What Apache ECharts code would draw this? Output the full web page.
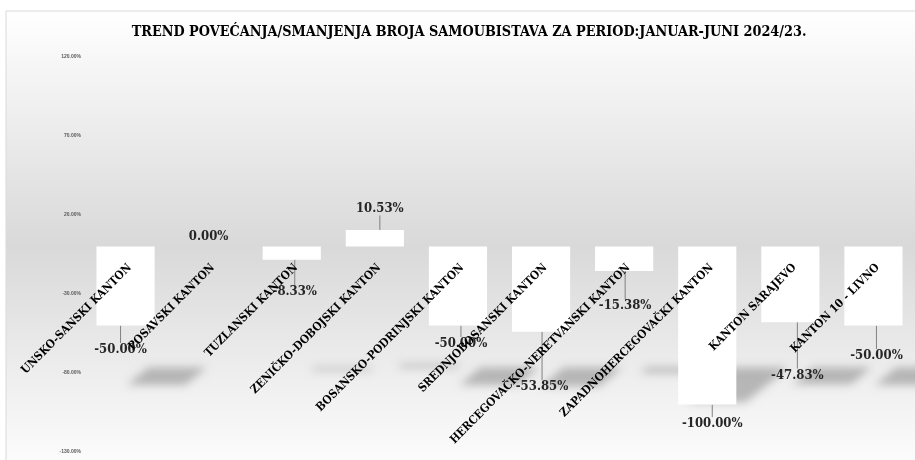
<!DOCTYPE html>
<html><head><meta charset="utf-8">
<script src="https://cdn.jsdelivr.net/npm/echarts@6/dist/echarts.min.js"></script>
<style>html,body{margin:0;padding:0;background:#fff}#c{width:915px;height:460px}</style>
</head><body><div id="c"></div>
<script>
const chartTitle = 'TREND POVEĆANJA/SMANJENJA BROJA SAMOUBISTAVA ZA PERIOD:JANUAR-JUNI 2024/23.';
const categories = ['UNSKO-SANSKI KANTON','POSAVSKI KANTON','TUZLANSKI KANTON','ZENIČKO-DOBOJSKI KANTON','BOSANSKO-PODRINJSKI KANTON','SREDNJOBOSANSKI KANTON','HERCEGOVAČKO-NERETVANSKI KANTON','ZAPADNOHERCEGOVAČKI KANTON','KANTON SARAJEVO','KANTON 10 - LIVNO'];
const changePct = [-50.00, 0.00, -8.33, 10.53, -50.00, -53.85, -15.38, -100.00, -47.83, -50.00];
const yMin = -130, yMax = 120, yStep = 50;

// label placement nudges in px (layout only, not data)
const labelNudge = [[-5,24],[0,-10],[3,32],[5,-21],[3,18],[1,55],[1,35],[5,19],[7,53],[3,30]];

const SERIF = '"DejaVu Serif Condensed", "DejaVu Serif", serif';
const GRID_TOP = 57, GRID_BOTTOM = 8, H = 460;
const chart = echarts.init(document.getElementById('c'), null, {renderer:'canvas'});

// px distance from bottom of grid up to the zero line, used to place category labels under zero
const plotH = H - GRID_TOP - GRID_BOTTOM;
const zeroFromBottom = plotH * (0 - yMin) / (yMax - yMin);
const OFF = 2000; // draw shadow shape off-canvas so only its blurred shadow shows

const option = {
  animation: false,
  graphic: {elements: [
    {type:'rect', z:-100, silent:true, shape:{x:6, y:11, width:940, height:470},
     style:{stroke:'#d9d9d9', lineWidth:1,
       fill:new echarts.graphic.LinearGradient(0,0,0,1,[
         {offset:0, color:'#ffffff'},{offset:0.5, color:'#d9d9d9'},{offset:1, color:'#ffffff'}])}},
    {type:'text', z:100, silent:true, x:469, y:32,
     style:{text:chartTitle, fill:'#000', font:'bold 14.3px ' + SERIF, align:'center', verticalAlign:'middle'}}
  ]},
  grid: {left:84, right:0, top:GRID_TOP, bottom:GRID_BOTTOM, containLabel:false, outerBoundsMode:'none'},
  xAxis: {type:'category', data:categories, z:10,
    axisLine:{show:false, onZero:false},
    axisTick:{show:false}, splitLine:{show:false},
    axisLabel:{rotate:45, interval:0, margin:15 - zeroFromBottom, align:'right', verticalAlign:'top',
      fontFamily:SERIF, fontWeight:'bold', fontSize:11.5, color:'#000', hideOverlap:false}},
  yAxis: {type:'value', min:yMin, max:yMax, interval:yStep,
    axisLine:{show:false}, axisTick:{show:false}, splitLine:{show:false},
    axisLabel:{margin:3, fontSize:5, color:'#595959', fontWeight:'bold',
      formatter:v => v.toFixed(2) + '%'}},
  series: [
    {type:'custom', z:1, silent:true, clip:false,
     data: changePct.map((v,i)=>[i,v]),
     renderItem: function(params, api){
       const i = api.value(0), v = api.value(1);
       if (!v) return null;
       const p0 = api.coord([i,0]), p1 = api.coord([i,v]);
       const bw = api.size([1,0])[0]*0.7;
       const zy = p0[1];
       const xl = p0[0]-bw/2, xr = p0[0]+bw/2;
       const yt = Math.min(p0[1],p1[1]), yb = Math.max(p0[1],p1[1]);
       const m = y => zy + 121 + (y-zy)*0.22;
       const s = y => 52 - (y-zy)*0.27 - OFF;
       return {type:'polygon', shape:{points:[[xl+s(yt),m(yt)],[xr+s(yt),m(yt)],[xr+s(yb),m(yb)],[xl+s(yb),m(yb)]]},
         style:{fill:'#000', shadowBlur:8, shadowOffsetX:OFF, shadowOffsetY:0, shadowColor:'rgba(0,0,0,0.24)'}};
     }},
    {type:'bar', z:2, barWidth:'70%',
     data: changePct.map(v => v === 0 ? {value:v, labelLine:{show:false}} : v),
     itemStyle:{color:'#ffffff'},
     label:{show:true, position:'inside', formatter:p => p.value.toFixed(2) + '%',
       fontFamily:SERIF, fontWeight:'bold', fontSize:13, color:'#262626'},
     labelLine:{show:true, lineStyle:{color:'#808080', width:1}},
     labelLayout: function(p){
       const n = labelNudge[p.dataIndex];
       const v = changePct[p.dataIndex];
       const r = p.rect;
       const cx = r.x + r.width/2;
       const ey = v < 0 ? r.y + r.height : r.y;
       return {x:cx + n[0], y:ey + n[1], align:'center', verticalAlign:'middle'};
     }}
  ]
};
chart.setOption(option);
</script></body></html>
